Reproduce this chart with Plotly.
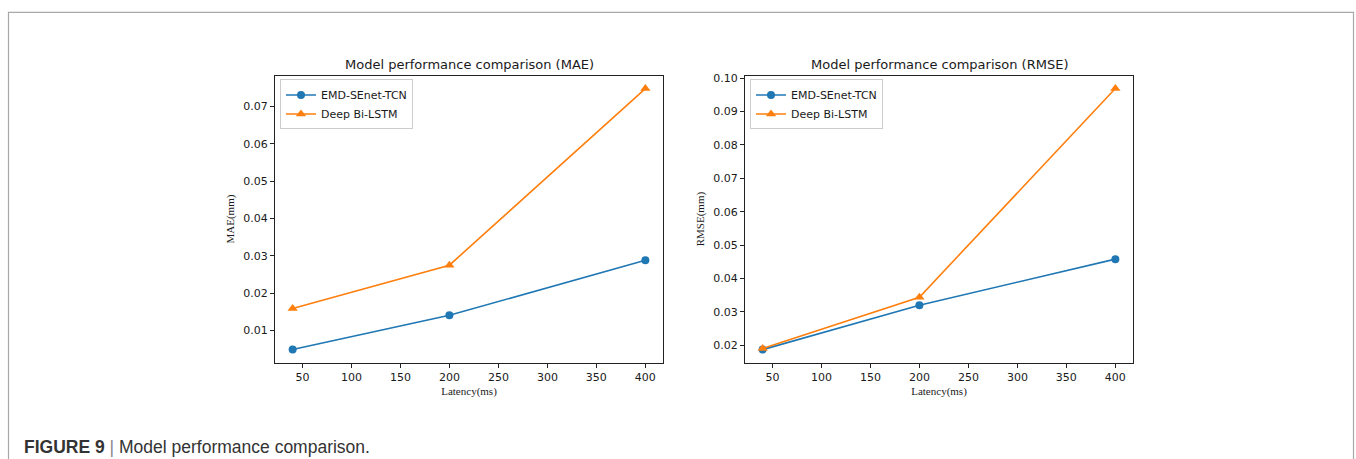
import plotly.graph_objects as go

latency = [40, 200, 400]
mae_emd = [0.0049, 0.0141, 0.0288]
mae_bilstm = [0.0159, 0.0275, 0.0748]
rmse_emd = [0.0187, 0.0320, 0.0458]
rmse_bilstm = [0.0190, 0.0344, 0.0969]
series_names = ["EMD-SEnet-TCN", "Deep Bi-LSTM"]
titles = ["Model performance comparison (MAE)", "Model performance comparison (RMSE)"]
ylabels = ["MAE(mm)", "RMSE(mm)"]
xlabel = "Latency(ms)"
x_ticks = [50, 100, 150, 200, 250, 300, 350, 400]

W, H = 1356, 459
BLUE = "#1f77b4"
ORANGE = "#ff7f0e"
TXT = "#1a1a1a"

fig = go.Figure()

def px(v):
    return v / W

def py(v):
    return 1 - v / H

# left subplot
fig.add_trace(go.Scatter(x=latency, y=mae_emd, mode="lines+markers", name=series_names[0],
                         line=dict(color=BLUE, width=1.6), marker=dict(symbol="circle", size=8, color=BLUE),
                         xaxis="x", yaxis="y", legend="legend"))
fig.add_trace(go.Scatter(x=latency, y=mae_bilstm, mode="lines+markers", name=series_names[1],
                         line=dict(color=ORANGE, width=1.6), marker=dict(symbol="triangle-up", size=9, color=ORANGE),
                         xaxis="x", yaxis="y", legend="legend"))
# right subplot
fig.add_trace(go.Scatter(x=latency, y=rmse_emd, mode="lines+markers", name=series_names[0],
                         line=dict(color=BLUE, width=1.6), marker=dict(symbol="circle", size=8, color=BLUE),
                         xaxis="x2", yaxis="y2", legend="legend2"))
fig.add_trace(go.Scatter(x=latency, y=rmse_bilstm, mode="lines+markers", name=series_names[1],
                         line=dict(color=ORANGE, width=1.6), marker=dict(symbol="triangle-up", size=9, color=ORANGE),
                         xaxis="x2", yaxis="y2", legend="legend2"))

tickfont = dict(family="DejaVu Sans", size=11, color=TXT)
labfont = dict(family="Liberation Serif", size=11, color=TXT)

common_x = dict(range=[22, 418], tickvals=x_ticks, showgrid=False, zeroline=False,
                showline=True, linecolor="#222", linewidth=1, mirror=True,
                ticks="outside", ticklen=4, tickcolor="#222", tickfont=tickfont)
common_y = dict(showgrid=False, zeroline=False, showline=True, linecolor="#222", linewidth=1,
                mirror=True, ticks="outside", ticklen=4, tickcolor="#222", tickfont=tickfont,
                tickformat=".2f")

y_top, y_bot = 73, 362
fig.update_layout(
    width=W, height=H,
    margin=dict(l=0, r=0, t=0, b=0),
    paper_bgcolor="white", plot_bgcolor="white",
    xaxis=dict(common_x, domain=[px(275), px(663)], anchor="y",
               title=dict(text=xlabel, font=labfont, standoff=4)),
    yaxis=dict(common_y, domain=[py(y_bot), py(y_top)], anchor="x", range=[0.0014, 0.0783], dtick=0.01,
               tick0=0.01, title=dict(text=ylabels[0], font=labfont, standoff=6)),
    xaxis2=dict(common_x, domain=[px(745), px(1133)], anchor="y2",
                title=dict(text=xlabel, font=labfont, standoff=4)),
    yaxis2=dict(common_y, domain=[py(y_bot), py(y_top)], anchor="x2", range=[0.0148, 0.1008], dtick=0.01,
                tick0=0.02, title=dict(text=ylabels[1], font=labfont, standoff=6)),
    showlegend=True,
    legend=dict(x=px(280), y=py(77), xanchor="left", yanchor="top", bgcolor="rgba(255,255,255,0.9)",
                bordercolor="#cccccc", borderwidth=1, font=dict(family="DejaVu Sans", size=11, color=TXT),
                tracegroupgap=0, itemwidth=30),
    legend2=dict(x=px(750), y=py(77), xanchor="left", yanchor="top", bgcolor="rgba(255,255,255,0.9)",
                 bordercolor="#cccccc", borderwidth=1, font=dict(family="DejaVu Sans", size=11, color=TXT),
                 tracegroupgap=0, itemwidth=30),
)

# subplot titles
for cx, t in [((275 + 663) / 2, titles[0]), ((745 + 1133) / 2, titles[1])]:
    fig.add_annotation(x=px(cx), y=py(62), xref="paper", yref="paper", text=t, showarrow=False,
                       xanchor="center", yanchor="middle",
                       font=dict(family="DejaVu Sans", size=13, color=TXT))

# caption
fig.add_annotation(x=px(22), y=py(447), xref="paper", yref="paper", showarrow=False,
                   xanchor="left", yanchor="middle",
                   text="<b>FIGURE 9</b> <span style='color:#888888'>|</span> Model performance comparison.",
                   font=dict(family="Liberation Sans", size=17.5, color="#333333"))

# outer frame (open at bottom)
fig.add_shape(type="path", xref="paper", yref="paper",
              path=f"M {px(8.5)} 0 L {px(8.5)} {py(9.5)} L {px(1353.5)} {py(9.5)} L {px(1353.5)} 0",
              line=dict(color="#a8a8a8", width=1.2))

fig.write_html("out.html")
